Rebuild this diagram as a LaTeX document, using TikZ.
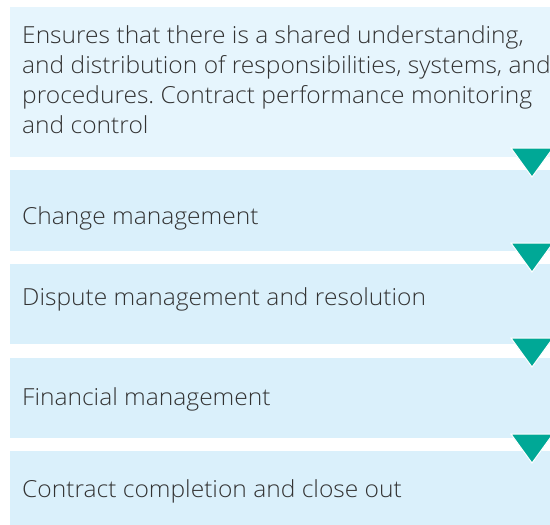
\documentclass[tikz,border=0pt]{standalone}
\usepackage{fontspec}
\setmainfont{Open Sans Light}[FakeStretch=1.045]
\frenchspacing
\definecolor{boxA}{HTML}{E6F5FD}
\definecolor{boxB}{HTML}{DAF0FB}
\definecolor{teal1}{HTML}{00A896}
\definecolor{txt}{HTML}{333333}
\begin{document}
\begin{tikzpicture}[x=1pt,y=-1pt,
  box/.style={fill=#1, draw=none, inner sep=0pt, minimum width=540pt, anchor=north west},
  lbl/.style={anchor=base west, inner sep=0pt, text=txt, font=\fontsize{23.5}{30}\selectfont\frenchspacing, align=left},
  tri/.style={fill=teal1, draw=white, line width=1pt, line join=miter}]
\useasboundingbox (0,0) rectangle (550,525);
\fill[white] (0,0) rectangle (550,525);
\node[box=boxA, minimum height=150pt] (b1) at (10,7) {};
\node[box=boxB, minimum height=81pt] (b2) at (10,170) {};
\node[box=boxB, minimum height=80pt] (b3) at (10,264) {};
\node[box=boxB, minimum height=80pt] (b4) at (10,358) {};
\node[box=boxB, minimum height=80pt] (b5) at (10,451) {};
\node[lbl] (t1) at (22,133) {Ensures that there is a shared understanding,\\and distribution of responsibilities, systems, and\\procedures. Contract performance monitoring\\and control};
\node[lbl] (t2) at (22,224) {Change management};
\node[lbl] (t3) at (22,305) {Dispute management and resolution};
\node[lbl] (t4) at (22,405) {Financial management};
\node[lbl] (t5) at (22,497) {Contract completion and close out};
\foreach \t in {148,243,338,434}{
  \draw[tri] (511,\t) -- (553,\t) -- (532,\t+29) -- cycle;
}
\end{tikzpicture}
\end{document}
